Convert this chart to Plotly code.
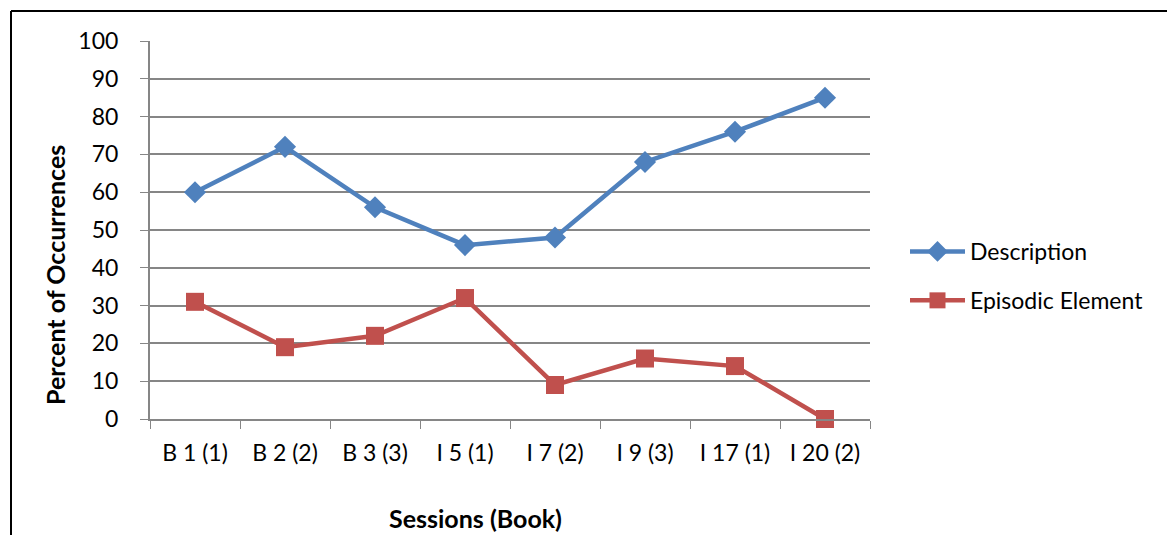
import plotly.graph_objects as go

sessions = ["B 1 (1)", "B 2 (2)", "B 3 (3)", "I 5 (1)", "I 7 (2)", "I 9 (3)", "I 17 (1)", "I 20 (2)"]
description = [60, 72, 56, 46, 48, 68, 76, 85]
episodic = [31, 19, 22, 32, 9, 16, 14, 0]

FONT = "Lato"
GRID = "#868686"

fig = go.Figure()
fig.add_trace(go.Scatter(
    x=sessions, y=description, name="Description", mode="lines+markers",
    legendgroup="a", cliponaxis=False,
    line=dict(color="#4F81BD", width=4.5),
    marker=dict(symbol="diamond", size=17, color="#4F81BD"),
))
fig.add_trace(go.Scatter(
    x=sessions, y=episodic, name="Episodic Element", mode="lines+markers",
    legendgroup="b", cliponaxis=False,
    line=dict(color="#C0504D", width=4.5),
    marker=dict(symbol="square", size=18, color="#C0504D"),
))

L, R, T, B = 150, 870, 41, 419
W, H = 1167, 535

px = lambda v: (v - L) / (R - L)
py = lambda v: 1 - (v - T) / (B - T)

fig.update_layout(
    width=W, height=H,
    margin=dict(l=L, r=W - R, t=T, b=H - B),
    paper_bgcolor="white", plot_bgcolor="white",
    font=dict(family=FONT, size=21, color="black"),
    showlegend=True,
    legend=dict(x=px(905), y=py(276), yanchor="middle",
                xanchor="left", font=dict(size=23), itemwidth=55,
                tracegroupgap=16, bgcolor="rgba(0,0,0,0)"),
    xaxis=dict(type="category", tickson="boundaries", ticks="outside", ticklen=8,
               tickcolor=GRID, showline=True, linecolor=GRID, linewidth=2,
               showgrid=False, range=[-0.5, 7.5], ticklabelstandoff=12,
               tickfont=dict(size=23)),
    yaxis=dict(range=[0, 100], dtick=10, ticks="outside", ticklen=8, tickcolor=GRID,
               showline=True, linecolor=GRID, linewidth=2, showgrid=True,
               gridcolor=GRID, gridwidth=1.5, zeroline=False, ticklabelstandoff=17,
               tickfont=dict(size=23)),
)

# Axis titles
fig.add_annotation(text="<b>Percent of Occurrences</b>", xref="paper", yref="paper",
                   x=px(55), y=py(275), textangle=-90, xanchor="center", yanchor="middle",
                   showarrow=False, font=dict(size=25))
fig.add_annotation(text="<b>Sessions (Book)</b>", xref="paper", yref="paper",
                   x=px(475), y=py(518), xanchor="center", yanchor="middle",
                   showarrow=False, font=dict(size=25))

# Chart frame (left and top edges)
fig.add_shape(type="line", xref="paper", yref="paper", x0=px(11), x1=px(11),
              y0=py(11), y1=py(540), line=dict(color="black", width=2))
fig.add_shape(type="line", xref="paper", yref="paper", x0=px(11), x1=px(1170),
              y0=py(11), y1=py(11), line=dict(color="black", width=2))

fig.write_html("out.html")
